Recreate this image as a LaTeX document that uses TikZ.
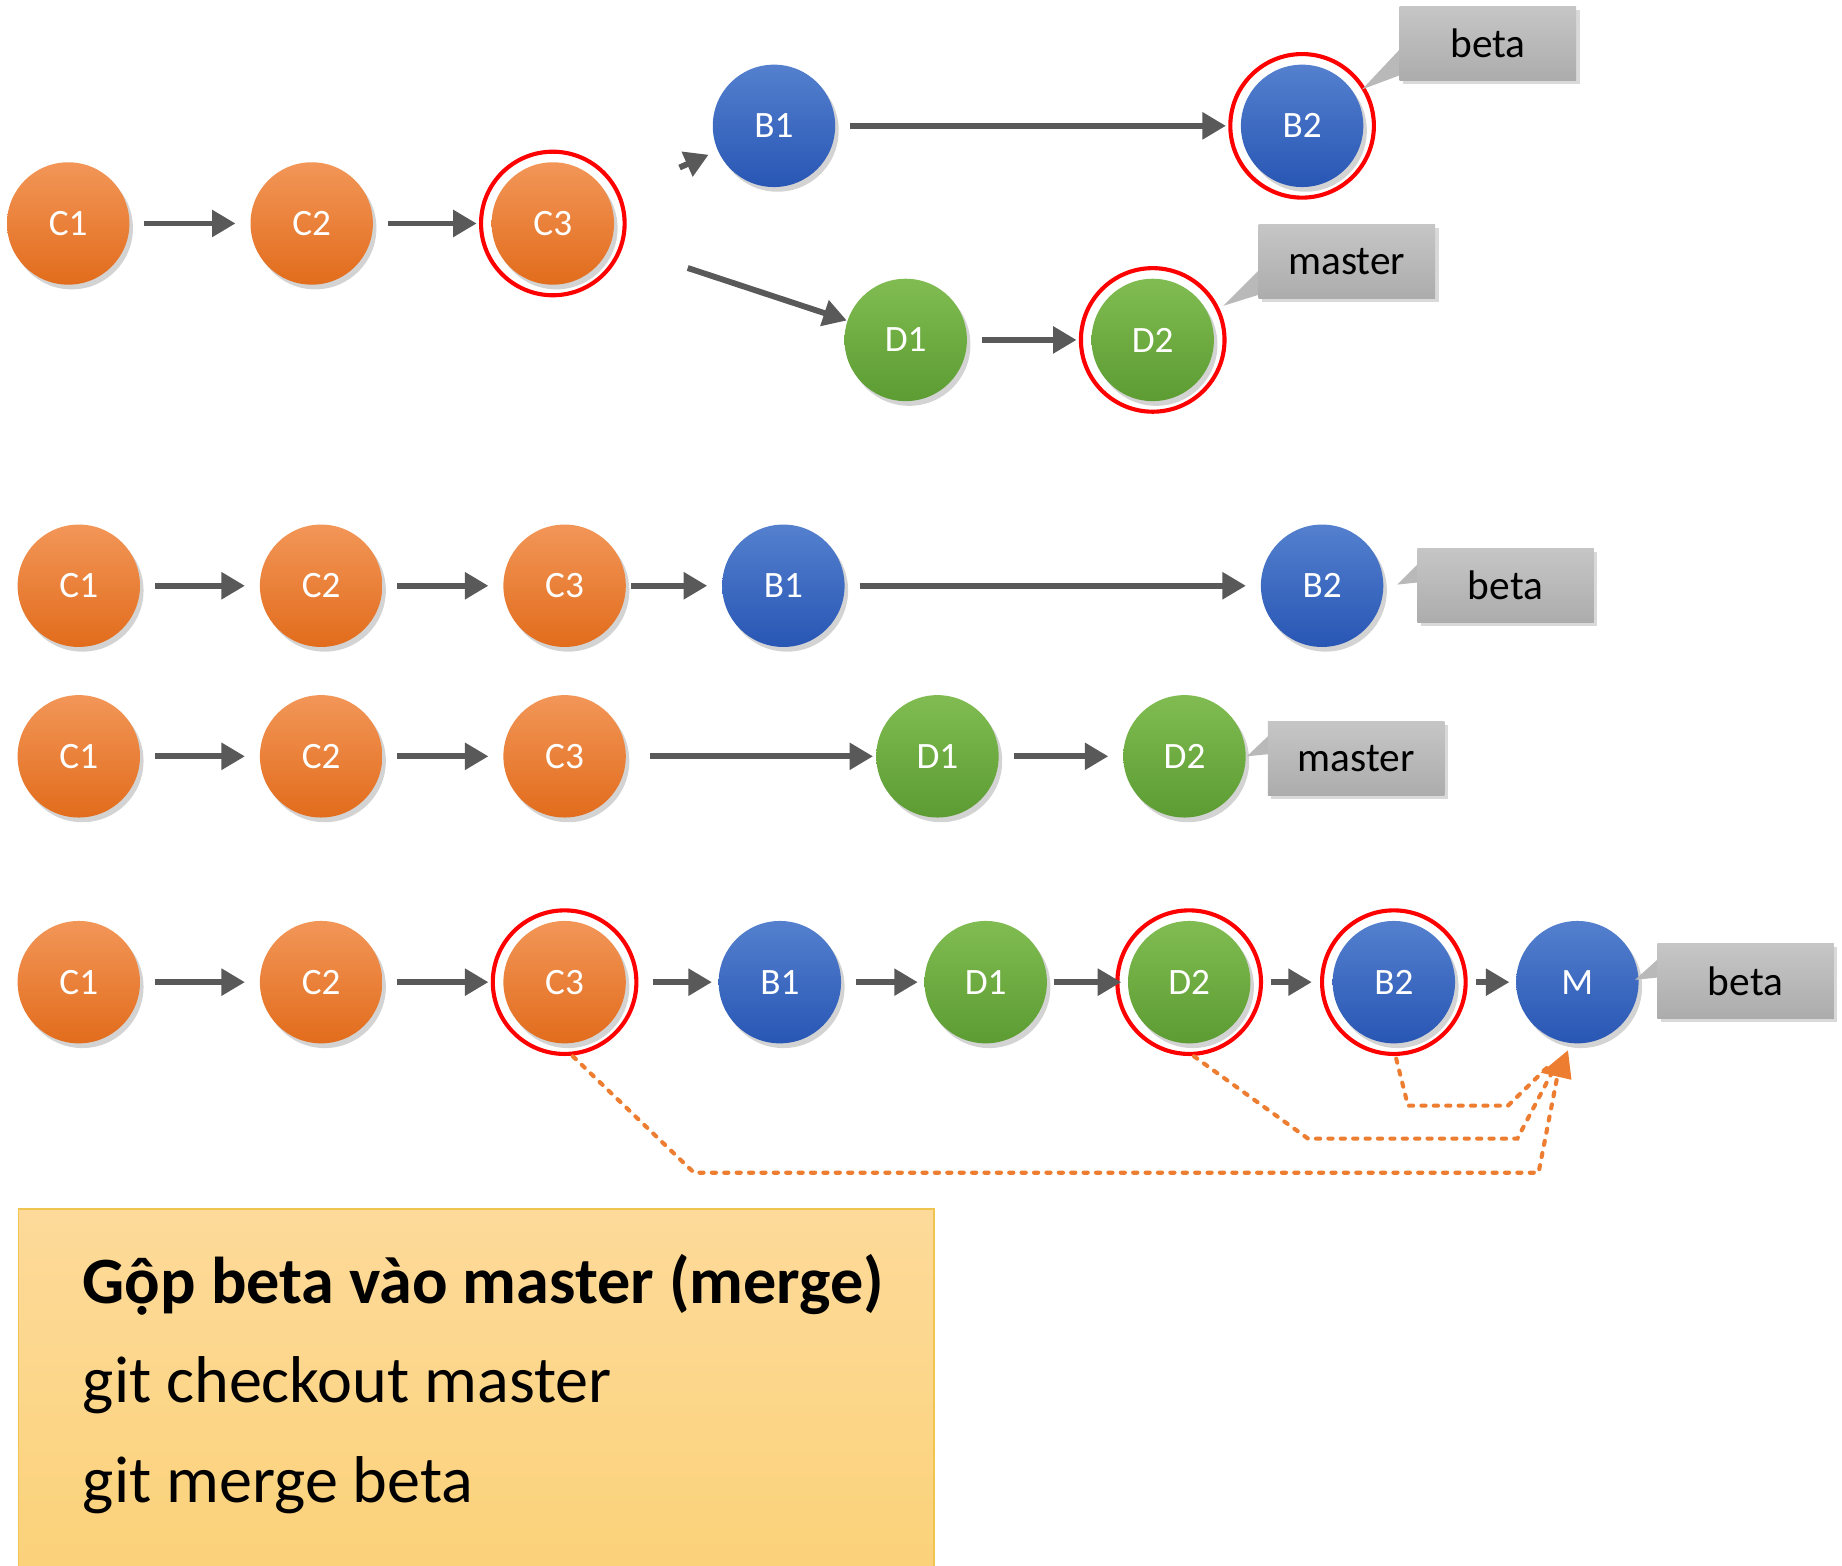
\documentclass[tikz,border=0pt]{standalone}
\usepackage{fontspec}
\setmainfont{Carlito}
\usetikzlibrary{arrows.meta,shadows}
\definecolor{arrgray}{HTML}{595959}
\definecolor{dotor}{HTML}{ED7D31}
\tikzset{
  commit/.style={circle, minimum size=1.04cm, inner sep=0pt, text=white,
    font=\fontsize{9pt}{10pt}\selectfont, drop shadow={opacity=0.35, shadow xshift=0.03cm, shadow yshift=-0.04cm}},
  co/.style={commit, top color=orange!55!white!80!orange, bottom color=orange!80!red!70!black!100, top color={rgb,255:red,242;green,150;blue,88}, bottom color={rgb,255:red,226;green,108;blue,28}},
  cb/.style={commit, top color={rgb,255:red,84;green,128;blue,206}, bottom color={rgb,255:red,40;green,86;blue,180}},
  cg/.style={commit, top color={rgb,255:red,128;green,188;blue,82}, bottom color={rgb,255:red,92;green,156;blue,50}},
  ring/.style={draw=red, line width=0.035cm},
  arr/.style={draw=arrgray, line width=0.05cm, -{Triangle[length=0.2cm,width=0.22cm]}, shorten <=0.12cm, shorten >=0.12cm},
  tag/.style={minimum width=1.5cm, minimum height=0.63cm, inner sep=0pt, top color=gray!45, bottom color=gray!65,
    font=\fontsize{10pt}{12pt}\selectfont, drop shadow={opacity=0.3, shadow xshift=0.03cm, shadow yshift=-0.03cm}},
  ptr/.style={fill=gray!55},
  dots/.style={draw=dotor, line width=0.035cm, dotted, line cap=round}
}
\begin{document}
\begin{tikzpicture}[x=0.01cm, y=-0.01cm]
\useasboundingbox (0,0) rectangle (1566,1331);
% row 1
\node[co] (a1) at (58,190) {C1};
\node[co] (a2) at (265,190) {C2};
\node[co] (a3) at (470,190) {C3};
\node[cb] (a4) at (658,107) {B1};
\node[cb] (a5) at (1107,107) {B2};
\node[cg] (a6) at (770,289) {D1};
\node[cg] (a7) at (980,289) {D2};
\foreach \n in {a3,a5,a7} \draw[ring] (\n.center) circle[radius=0.61cm];
\draw[arr] (a1) -- (a2);
\draw[arr] (a2) -- (a3);
\draw[arr, shorten <=0.65cm, shorten >=0.08cm] (a3) -- (a4);
\draw[arr, shorten <=0.68cm, shorten >=0cm] (a3) -- (a6);
\draw[arr] (a4) -- (a5);
\draw[arr] (a6) -- (a7);
\fill[ptr] (1190,42) -- (1158,76) -- (1190,64) -- cycle;
\node[tag] (t1) at (1265,37) {beta};
\fill[ptr] (1072,228) -- (1040,260) -- (1072,250) -- cycle;
\node[tag] (t2) at (1145,222) {master};
% row 2
\node[co] (b1) at (67,498) {C1};
\node[co] (b2) at (273,498) {C2};
\node[co] (b3) at (480,498) {C3};
\node[cb] (b4) at (666,498) {B1};
\node[cb] (b5) at (1124,498) {B2};
\draw[arr] (b1) -- (b2);
\draw[arr] (b2) -- (b3);
\draw[arr, shorten <=0.04cm] (b3) -- (b4);
\draw[arr] (b4) -- (b5);
\fill[ptr] (1207,478) -- (1188,497) -- (1207,495) -- cycle;
\node[tag] (t3) at (1280,498) {beta};
% row 3
\node[co] (c1) at (67,643) {C1};
\node[co] (c2) at (273,643) {C2};
\node[co] (c3) at (480,643) {C3};
\node[cg] (c4) at (797,643) {D1};
\node[cg] (c5) at (1007,643) {D2};
\draw[arr] (c1) -- (c2);
\draw[arr] (c2) -- (c3);
\draw[arr, shorten <=0.2cm, shorten >=0.02cm] (c3) -- (c4);
\draw[arr] (c4) -- (c5);
\fill[ptr] (1080,624) -- (1060,643) -- (1080,641) -- cycle;
\node[tag] (t4) at (1153,645) {master};
% row 4
\node[co] (d1) at (67,835) {C1};
\node[co] (d2) at (273,835) {C2};
\node[co] (d3) at (480,835) {C3};
\node[cb] (d4) at (663,835) {B1};
\node[cg] (d5) at (838,835) {D1};
\node[cg] (d6) at (1011,835) {D2};
\node[cb] (d7) at (1185,835) {B2};
\node[cb] (d8) at (1341,835) {M};
\foreach \n in {d3,d6,d7} \draw[ring] (\n.center) circle[radius=0.61cm];
\draw[arr] (d1) -- (d2);
\draw[arr] (d2) -- (d3);
\draw[arr, shorten <=0.22cm, shorten >=0.05cm] (d3) -- (d4);
\draw[arr, shorten >=0.05cm] (d4) -- (d5);
\draw[arr, shorten <=0.05cm, shorten >=0.05cm] (d5) -- (d6);
\draw[arr, shorten <=0.17cm, shorten >=0.17cm] (d6) -- (d7);
\draw[arr, shorten <=0.17cm, shorten >=0.05cm] (d7) -- (d8);
\fill[ptr] (1410,815) -- (1390,833) -- (1410,831) -- cycle;
\node[tag] (t5) at (1484,834) {beta};
% merge parents
\coordinate (m) at (1333,893);
\draw[dots] (487,898) -- (590,997) -- (1308,997) -- (1326,905);
\draw[dots] (1015,898) -- (1112,968) -- (1290,968) -- (1323,905);
\draw[dots] (1187,900) -- (1197,940) -- (1282,940) -- (1318,905);
\fill[dotor] (m) -- (1310,912) -- (1336,918) -- cycle;
% info box
\node[draw={rgb,255:red,240;green,196;blue,80}, top color={rgb,255:red,253;green,218;blue,154},
  bottom color={rgb,255:red,251;green,210;blue,122}, minimum width=7.78cm, minimum height=3.04cm,
  anchor=north west, inner sep=0pt] (box) at (15,1027) {};
\node[anchor=west, font=\fontsize{16pt}{18pt}\selectfont\bfseries] (l1) at (58,1092) {Gộp beta vào master (merge)};
\node[anchor=west, font=\fontsize{16pt}{18pt}\selectfont] (l2) at (58,1178) {git checkout master};
\node[anchor=west, font=\fontsize{16pt}{18pt}\selectfont] (l3) at (58,1263) {git merge beta};
\end{tikzpicture}
\end{document}
